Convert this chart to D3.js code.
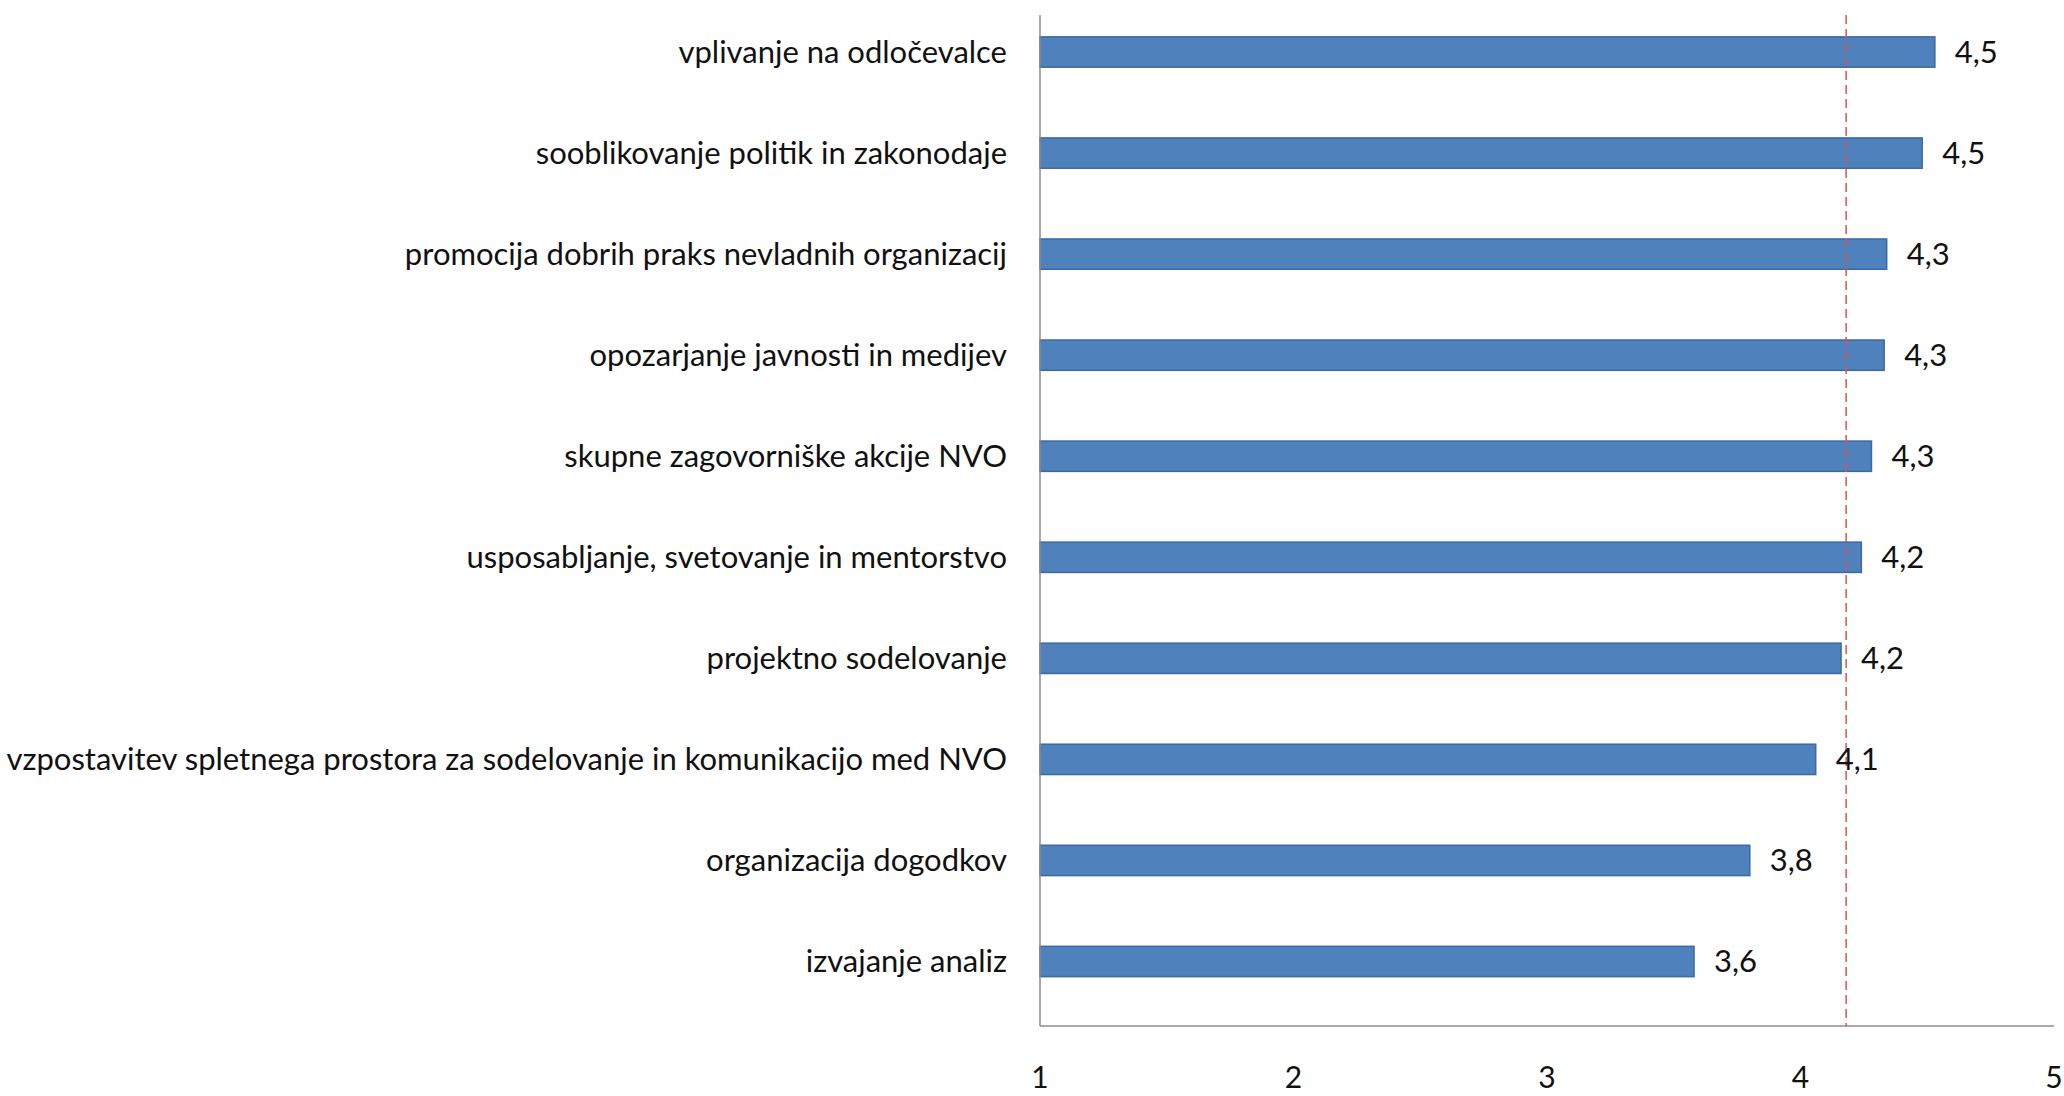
<!DOCTYPE html>
<html>
<head>
<meta charset="utf-8">
<script src="https://cdn.jsdelivr.net/npm/d3@7"></script>
<style>
  html, body { margin: 0; padding: 0; background: #fff; }
  svg { display: block; }
</style>
</head>
<body>
<svg id="chart" width="2064" height="1096"></svg>
<script>
const categories = [
  "vplivanje na odločevalce",
  "sooblikovanje politik in zakonodaje",
  "promocija dobrih praks nevladnih organizacij",
  "opozarjanje javnosti in medijev",
  "skupne zagovorniške akcije NVO",
  "usposabljanje, svetovanje in mentorstvo",
  "projektno sodelovanje",
  "vzpostavitev spletnega prostora  za sodelovanje in komunikacijo med NVO",
  "organizacija dogodkov",
  "izvajanje analiz"
];
const values = [4.53, 4.48, 4.34, 4.33, 4.28, 4.24, 4.16, 4.06, 3.80, 3.58];
const meanValue = 4.18;
const xTicks = [1, 2, 3, 4, 5];

const svg = d3.select("#chart");
const font = "Lato, 'Open Sans', sans-serif";

const x = d3.scaleLinear().domain([1, 5]).range([1040, 2054]);
const y = d3.scaleBand().domain(categories).range([1.5, 1012]).paddingInner(0.7).paddingOuter(0.35);

const axisTop = 15, axisBottom = 1026;

// bars
svg.append("g").selectAll("rect").data(categories).join("rect")
  .attr("x", x(1))
  .attr("y", d => y(d))
  .attr("width", (d, i) => x(values[i]) - x(1))
  .attr("height", y.bandwidth())
  .attr("fill", "#4F81BD")
  .attr("stroke", "#3C6A9E")
  .attr("stroke-width", 1.5);

// axes lines
svg.append("line").attr("x1", x(1)).attr("x2", x(1)).attr("y1", axisTop).attr("y2", axisBottom)
  .attr("stroke", "#8C8C8C").attr("stroke-width", 1.5);
svg.append("line").attr("x1", x(1)).attr("x2", x(5)).attr("y1", axisBottom).attr("y2", axisBottom)
  .attr("stroke", "#8C8C8C").attr("stroke-width", 1.5);

// mean line
svg.append("line").attr("x1", x(meanValue)).attr("x2", x(meanValue)).attr("y1", axisTop).attr("y2", axisBottom)
  .attr("stroke", "#D9534F").attr("stroke-width", 1.5).attr("stroke-dasharray", "9,5");

// category labels
svg.append("g").selectAll("text").data(categories).join("text")
  .attr("x", 1007)
  .attr("y", d => y(d) + y.bandwidth() / 2)
  .attr("dy", "0.35em")
  .attr("text-anchor", "end")
  .attr("font-family", font)
  .attr("font-size", 31)
  .attr("fill", "#111")
  .text(d => d);

// value labels
const fmt = d3.formatLocale({decimal: ",", thousands: ".", grouping: [3], currency: ["", ""]}).format(".1f");
svg.append("g").selectAll("text").data(categories).join("text")
  .attr("x", (d, i) => x(values[i]) + 20)
  .attr("y", d => y(d) + y.bandwidth() / 2)
  .attr("dy", "0.35em")
  .attr("font-family", font)
  .attr("font-size", 31)
  .attr("fill", "#111")
  .text((d, i) => fmt(values[i]));

// x tick labels
svg.append("g").selectAll("text").data(xTicks).join("text")
  .attr("x", d => x(d))
  .attr("y", 1077)
  .attr("dy", "0.35em")
  .attr("text-anchor", "middle")
  .attr("font-family", font)
  .attr("font-size", 30)
  .attr("fill", "#111")
  .text(d => d);
</script>
</body>
</html>
